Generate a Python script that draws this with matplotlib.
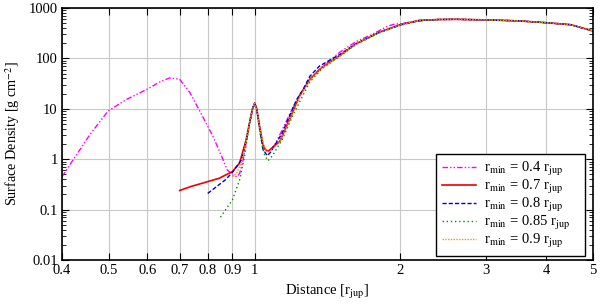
import matplotlib
matplotlib.use('Agg')
import matplotlib.pyplot as plt
from matplotlib.ticker import FixedLocator, NullLocator, LogLocator, FixedFormatter, NullFormatter

plt.rcParams['font.family'] = 'Liberation Serif'
plt.rcParams['mathtext.fontset'] = 'stix'
plt.rcParams['font.size'] = 10

# r_min = 0.4 r_jup
x_04 = [0.4, 0.422, 0.457, 0.498, 0.544, 0.6, 0.64, 0.668, 0.7, 0.735, 0.78, 0.82,
        0.855, 0.877, 0.9, 0.92, 0.931, 0.945, 0.955, 0.965, 0.978, 0.99, 1.0, 1.01,
        1.024, 1.04, 1.055, 1.07, 1.1, 1.14, 1.19, 1.24, 1.3, 1.36, 1.5, 1.62, 1.75,
        1.87, 1.93, 2.0, 2.2, 2.4, 2.6, 3.0, 3.5, 4.0, 4.5, 5.0]
y_04 = [0.45, 0.98, 3.1, 9, 15.4, 24.5, 35, 41, 38.6, 21, 7.2, 2.86,
        1.14, 0.62, 0.49, 0.45, 0.52, 0.9, 1.6, 2.8, 5.5, 10, 13, 10,
        4.5, 2.0, 1.5, 1.45, 1.9, 3.8, 9, 19, 38, 61, 133, 215, 300,
        420, 470, 490, 555, 590, 595, 580, 555, 510, 465, 350]

# r_min = 0.7 r_jup
x_07 = [0.7, 0.74, 0.78, 0.8, 0.845, 0.9, 0.931, 0.96, 0.975, 0.99, 1.0, 1.01,
        1.024, 1.04, 1.049, 1.066, 1.08, 1.127, 1.181, 1.238, 1.3, 1.38, 1.5,
        1.62, 1.81, 2.0, 2.19, 2.4, 2.6, 3.0, 3.5, 4.0, 4.5, 5.0]
y_07 = [0.24, 0.29, 0.335, 0.36, 0.42, 0.57, 0.84, 2.4, 5, 10, 13, 10,
        4.5, 2.0, 1.6, 1.43, 1.6, 2.25, 6.2, 17.9, 38.6, 67, 114,
        195, 330, 468, 570, 590, 595, 580, 555, 510, 465, 350]

# r_min = 0.8 r_jup
x_08 = [0.8, 0.87, 0.9, 0.94, 0.96, 0.975, 0.99, 1.0, 1.01, 1.024, 1.04, 1.062,
        1.08, 1.14, 1.22, 1.26, 1.30, 1.36, 1.5, 1.62, 1.81, 2.0, 2.19, 2.4,
        2.6, 3.0, 3.5, 4.0, 4.5, 5.0]
y_08 = [0.21, 0.39, 0.55, 0.98, 2.2, 5, 10, 13, 10, 4, 1.6, 1.17,
        1.4, 3.3, 15, 24.4, 44, 70, 120, 195, 330, 460, 560, 590,
        595, 580, 555, 510, 465, 350]

# r_min = 0.85 r_jup
x_085 = [0.85, 0.9, 0.931, 0.95, 0.975, 0.99, 1.0, 1.01, 1.024, 1.045, 1.066, 1.09,
         1.14, 1.2, 1.24, 1.3, 1.38, 1.5, 1.62, 1.81, 2.0, 2.19, 2.4, 2.6, 3.0,
         3.5, 4.0, 4.5, 5.0]
y_085 = [0.071, 0.157, 0.39, 0.98, 4.5, 10, 12.5, 9.5, 3.8, 1.3, 0.93, 1.2,
         2.44, 7.5, 14, 34, 63, 110, 190, 320, 455, 565, 590, 595, 580,
         555, 510, 465, 350]

# r_min = 0.9 r_jup
x_09 = [0.9, 0.92, 0.94, 0.96, 0.975, 0.99, 1.0, 1.01, 1.024, 1.045, 1.066, 1.09,
        1.127, 1.181, 1.238, 1.3, 1.38, 1.5, 1.62, 1.81, 2.0, 2.19, 2.4, 2.6, 3.0,
        3.5, 4.0, 4.5, 5.0]
y_09 = [0.45, 0.55, 0.9, 2.2, 5, 10, 13, 10, 4.3, 1.8, 1.35, 1.6,
        2.2, 6.0, 17, 37, 66, 113, 195, 330, 465, 570, 590, 598, 582,
        555, 510, 465, 350]

x_ticks = [0.4, 0.5, 0.6, 0.7, 0.8, 0.9, 1, 2, 3, 4, 5]
x_labels = ['0.4', '0.5', '0.6', '0.7', '0.8', '0.9', '1', '2', '3', '4', '5']
y_ticks = [0.01, 0.1, 1, 10, 100, 1000]
y_labels = ['0.01', '0.1', '1', '10', '100', '1000']

fig = plt.figure(figsize=(6, 3.06), dpi=100)
ax = fig.add_axes((0.1033, 0.150, 0.885, 0.824))

ax.plot(x_04, y_04, color='#ff00ff', lw=1.0, ls=(0, (4, 1.5, 1, 1.5, 1, 1.5)),
        label=r'r$_{\rm min}$ = 0.4 r$_{\rm jup}$   ')
ax.plot(x_07, y_07, color='#ee0000', lw=1.2, ls='-',
        label=r'r$_{\rm min}$ = 0.7 r$_{\rm jup}$   ')
ax.plot(x_08, y_08, color='#0000cc', lw=1.0, ls=(0, (3, 1.5)),
        label=r'r$_{\rm min}$ = 0.8 r$_{\rm jup}$   ')
ax.plot(x_085, y_085, color='#008c00', lw=1.0, ls=(0, (1, 2)),
        label=r'r$_{\rm min}$ = 0.85 r$_{\rm jup}$   ')
ax.plot(x_09, y_09, color='#ff8c1a', lw=1.0, ls=(0, (1, 1)),
        label=r'r$_{\rm min}$ = 0.9 r$_{\rm jup}$   ')

ax.set_xscale('log')
ax.set_yscale('log')
ax.set_xlim(0.4, 5)
ax.set_ylim(0.01, 1000)

ax.xaxis.set_major_locator(FixedLocator(x_ticks))
ax.xaxis.set_major_formatter(FixedFormatter(x_labels))
ax.xaxis.set_minor_locator(NullLocator())
ax.yaxis.set_major_locator(FixedLocator(y_ticks))
ax.yaxis.set_major_formatter(FixedFormatter(y_labels))
ax.yaxis.set_minor_locator(LogLocator(base=10, subs=range(2, 10)))
ax.yaxis.set_minor_formatter(NullFormatter())

ax.tick_params(which='both', direction='in', top=True, right=True, labelsize=10.5)
ax.tick_params(which='major', length=5, width=0.8, pad=3)
ax.tick_params(which='minor', length=3, width=0.6)
ax.grid(True, which='major', color='#c8c8c8', lw=0.8)
for s in ax.spines.values():
    s.set_linewidth(1.2)

ax.set_xlabel(r'Distance [r$_{\rm jup}$]', fontsize=10.5, labelpad=4)
ax.set_ylabel(r'Surface Density [g cm$^{-2}$]', fontsize=10.2, labelpad=5)

leg = ax.legend(loc='lower right', bbox_to_anchor=(0.985, 0.016), fontsize=10.5,
                frameon=True, fancybox=False, edgecolor='black', framealpha=1,
                handlelength=2.3, labelspacing=0.0, borderaxespad=0,
                borderpad=0.4, handletextpad=0.6)
leg.get_frame().set_linewidth(1.0)

fig.savefig('out.png', dpi=100)
